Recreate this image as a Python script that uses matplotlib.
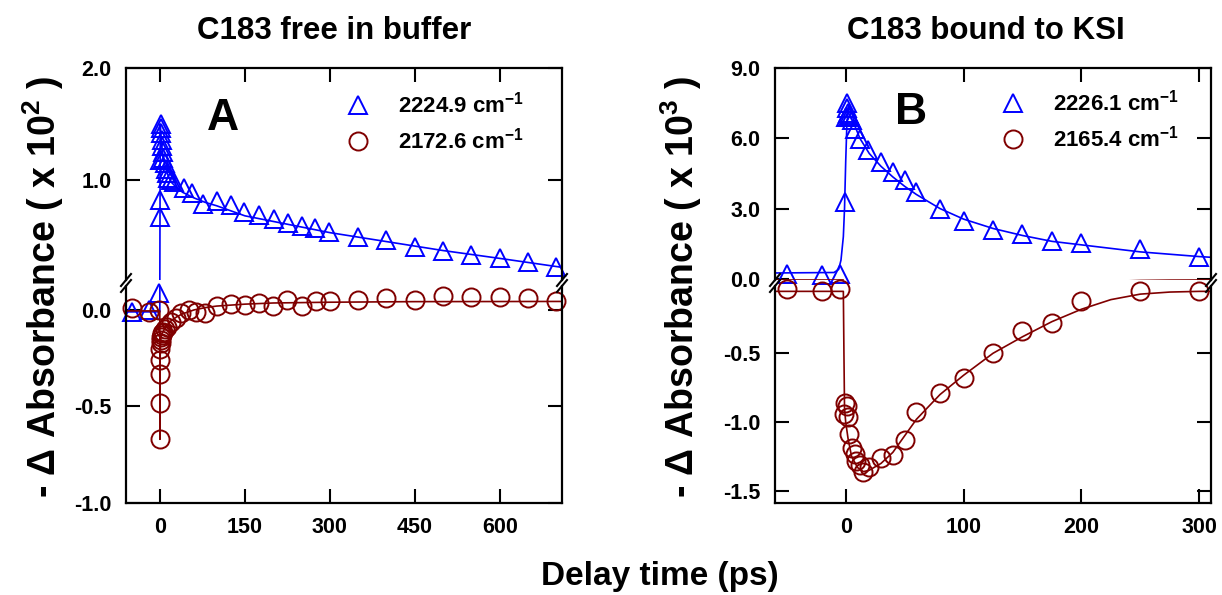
import numpy as np
import matplotlib
matplotlib.use('Agg')
import matplotlib.pyplot as plt
from matplotlib.ticker import FormatStrFormatter
from matplotlib.lines import Line2D

plt.rcParams['font.family'] = ['Liberation Sans', 'DejaVu Sans']
plt.rcParams['font.weight'] = 'bold'
plt.rcParams['mathtext.default'] = 'regular'

BLUE = '#0000ff'
RED = '#800000'

# ---- panel A : C183 free in buffer ----
a_blue_t = [-50, -20, -1, 0, 0, 0.5, 1, 1.5, 2, 3, 4, 5, 6, 8, 10, 12, 15, 20, 25, 42, 57, 76,
            100, 126, 149, 175, 201, 226, 250, 274, 299, 350, 400, 450, 500, 550, 600, 650, 700]
a_blue_v = [-0.01, 0.0, 0.09, 0.67, 0.82, 1.18, 1.5, 1.46, 1.42, 1.36, 1.3, 1.25, 1.2, 1.15, 1.1, 1.06,
            1.02, 1.0, 0.985, 0.93, 0.88, 0.79, 0.81, 0.78, 0.71, 0.69, 0.65, 0.62, 0.59, 0.57,
            0.54, 0.49, 0.46, 0.40, 0.37, 0.33, 0.30, 0.27, 0.22]
a_red_t = [-50, -20, -2, 0, 0, 0, 0, 0.5, 1, 1.5, 2, 3, 4, 6, 8.5, 13, 20, 28, 38, 51, 64, 80,
           100, 125, 150, 175, 200, 225, 250, 275, 300, 350, 400, 450, 500, 550, 600, 650, 700]
a_red_v = [0.01, -0.01, 0.0, -0.67, -0.48, -0.33, -0.26, -0.2, -0.17, -0.155, -0.14, -0.13, -0.12,
           -0.114, -0.1, -0.088, -0.06, -0.04, -0.018, 0.0, -0.009, -0.018, 0.018, 0.03, 0.026,
           0.035, 0.018, 0.053, 0.018, 0.047, 0.047, 0.053, 0.061, 0.053, 0.07, 0.065, 0.067,
           0.061, 0.044]
a_blue_fit_t = [-60, -0.3, 0, 0.5, 1, 2, 4, 6, 10, 15, 20, 30, 40, 60, 80, 100, 150, 200, 250,
                300, 400, 500, 600, 710]
a_blue_fit_v = [-0.01, -0.01, 0.6, 1.5, 1.45, 1.38, 1.27, 1.2, 1.1, 1.03, 0.98, 0.93, 0.89, 0.84,
                0.8, 0.77, 0.68, 0.63, 0.58, 0.53, 0.45, 0.37, 0.30, 0.22]
a_red_fit_t = [-60, -0.3, 0, 0.3, 1, 2, 4, 7, 10, 15, 20, 30, 40, 60, 80, 100, 150, 200, 300, 450, 710]
a_red_fit_v = [-0.005, -0.005, -0.67, -0.25, -0.17, -0.14, -0.12, -0.105, -0.09, -0.07, -0.055,
               -0.035, -0.02, 0.0, 0.012, 0.02, 0.03, 0.036, 0.04, 0.043, 0.044]

# ---- panel B : C183 bound to KSI ----
b_blue_t = [-50, -20, -5, -1, 0, 1, 1.5, 2, 3, 4, 5, 8, 12.5, 19, 30, 40, 50, 60, 80, 100, 125,
            150, 175, 200, 250, 300]
b_blue_v = [0.21, 0.15, 0.21, 3.3, 6.9, 7.5, 7.3, 7.1, 7.0, 6.9, 6.8, 6.4, 5.95, 5.5, 5.0, 4.55,
            4.2, 3.7, 3.0, 2.48, 2.1, 1.9, 1.62, 1.55, 1.27, 0.92]
b_red_t = [-50, -20, -5, -1.5, -1, 1, 2, 3, 5, 7.5, 9, 12, 15, 20, 30, 40, 50, 60, 80, 100, 125,
           150, 175, 200, 250, 300]
b_red_v = [-0.035, -0.045, -0.035, -0.94, -0.86, -0.88, -0.96, -1.09, -1.19, -1.23, -1.28, -1.31,
           -1.36, -1.33, -1.26, -1.24, -1.13, -0.93, -0.79, -0.68, -0.5, -0.335, -0.28, -0.12,
           -0.045, -0.045]
b_blue_fit_t = [-60, -10, -6, -4, -2, -1, 0, 1, 2, 3, 5, 8, 12, 20, 30, 40, 50, 60, 80, 100, 125,
                150, 175, 200, 250, 300, 310]
b_blue_fit_v = [0.25, 0.27, 0.4, 0.8, 1.8, 3.0, 5.0, 6.6, 7.2, 7.35, 7.1, 6.5, 6.0, 5.35, 4.8,
                4.35, 3.95, 3.6, 3.0, 2.55, 2.15, 1.85, 1.6, 1.45, 1.15, 0.95, 0.92]
b_red_fit_t = [-60, -2, -1.5, -1, 0, 2, 5, 10, 15, 20, 30, 40, 50, 60, 80, 100, 125, 150, 175,
               200, 225, 250, 275, 300, 310]
b_red_fit_v = [-0.05, -0.05, -0.5, -0.9, -1.0, -1.12, -1.25, -1.33, -1.36, -1.35, -1.3, -1.22,
               -1.1, -0.98, -0.8, -0.66, -0.5, -0.38, -0.27, -0.18, -0.11, -0.07, -0.055, -0.05,
               -0.05]

W, H = 1222, 595
fig = plt.figure(figsize=(W / 100, H / 100), dpi=100)


def box(l, t, r, b):
    return [l / W, 1 - b / H, (r - l) / W, (b - t) / H]


def fx(x):
    return x / W


def fy(y):
    return 1 - y / H


def style(ax, top_part):
    for s in ax.spines.values():
        s.set_linewidth(1.6)
    ax.tick_params(direction='in', length=10, width=1.5, labelsize=15.5,
                   right=True, left=True, top=top_part, bottom=not top_part,
                   labeltop=False, labelbottom=not top_part)
    ax.tick_params(axis='y', pad=10.5)
    ax.tick_params(axis='x', pad=10)
    if top_part:
        ax.spines['bottom'].set_visible(False)
    else:
        ax.spines['top'].set_visible(False)
    ax.yaxis.set_major_formatter(FormatStrFormatter('%.1f'))


panels = [
    dict(l=126, r=562, xlim=(-60, 710), xt=[0, 150, 300, 450, 600],
         toplim=(0.107, 2.0), topt=[1.0, 2.0], botlim=(-1.0, 0.124), bott=[-1.0, -0.5, 0.0],
         split=0.115, series=[(a_blue_t, a_blue_v, a_blue_fit_t, a_blue_fit_v, BLUE, '^', '2224.9 cm$^{-1}$'),
                              (a_red_t, a_red_v, a_red_fit_t, a_red_fit_v, RED, 'o', '2172.6 cm$^{-1}$')],
         title='C183 free in buffer', tx=334, letter='A', lx=223, ly=118, legx=347, legy=92,
         ylab='- Δ Absorbance ( x 10$^2$ )', ylx=43),
    dict(l=775, r=1211, xlim=(-60, 310), xt=[0, 100, 200, 300],
         toplim=(-0.05, 9.0), topt=[0.0, 3.0, 6.0, 9.0], botlim=(-1.588, -0.011), bott=[-1.5, -1.0, -0.5],
         split=0.05, series=[(b_blue_t, b_blue_v, b_blue_fit_t, b_blue_fit_v, BLUE, '^', '2226.1 cm$^{-1}$'),
                             (b_red_t, b_red_v, b_red_fit_t, b_red_fit_v, RED, 'o', '2165.4 cm$^{-1}$')],
         title='C183 bound to KSI', tx=986, letter='B', lx=911, ly=113, legx=1002, legy=90,
         ylab='- Δ Absorbance ( x 10$^3$ )', ylx=681),
]

top_y, brk_top, brk_bot, bot_y = 68, 280, 286, 503

for p in panels:
    axt = fig.add_axes(box(p['l'], top_y, p['r'], brk_top))
    axb = fig.add_axes(box(p['l'], brk_bot, p['r'], bot_y))
    style(axt, True)
    style(axb, False)
    handles = []
    for t, v, ft, fv, c, m, lab in p['series']:
        t = np.array(t)
        v = np.array(v)
        for ax in (axt, axb):
            ax.plot(ft, fv, color=c, lw=1.2)
        up = v >= p['split']
        axt.plot(t[up], v[up], ls='none', marker=m, ms=13, mfc='none', mec=c, mew=1.4, clip_on=False)
        axb.plot(t[~up], v[~up], ls='none', marker=m, ms=13, mfc='none', mec=c, mew=1.4, clip_on=False)
        handles.append(Line2D([], [], ls='none', marker=m, ms=13, mfc='none', mec=c, mew=1.4, label=lab))
    for ax in (axt, axb):
        ax.set_xlim(*p['xlim'])
        ax.set_xticks(p['xt'])
    axt.set_ylim(*p['toplim'])
    axt.set_yticks(p['topt'])
    axb.set_ylim(*p['botlim'])
    axb.set_yticks(p['bott'])

    # axis break marks
    for xs in (p['l'], p['r']):
        for yb in (brk_top, brk_bot):
            fig.add_artist(Line2D([fx(xs - 5), fx(xs + 5)], [fy(yb + 6), fy(yb - 6)],
                                  color='black', lw=1.5, transform=fig.transFigure))

    axt.legend(handles=handles, loc='upper left', bbox_to_anchor=(fx(p['legx']), fy(p['legy'])),
               bbox_transform=fig.transFigure, frameon=False, fontsize=16, borderpad=0,
               borderaxespad=0, handlelength=1.0, handletextpad=1.3, labelspacing=0.45)
    fig.text(fx(p['tx']), fy(31), p['title'], fontsize=22.5, ha='center', va='center')
    fig.text(fx(p['lx']), fy(p['ly']), p['letter'], fontsize=32, ha='center', va='center')
    fig.text(fx(p['ylx']), fy(287), p['ylab'], fontsize=27, rotation=90, ha='center', va='center')

fig.text(fx(660), fy(577), 'Delay time (ps)', fontsize=24, ha='center', va='center')

fig.savefig('out.png', dpi=100)
